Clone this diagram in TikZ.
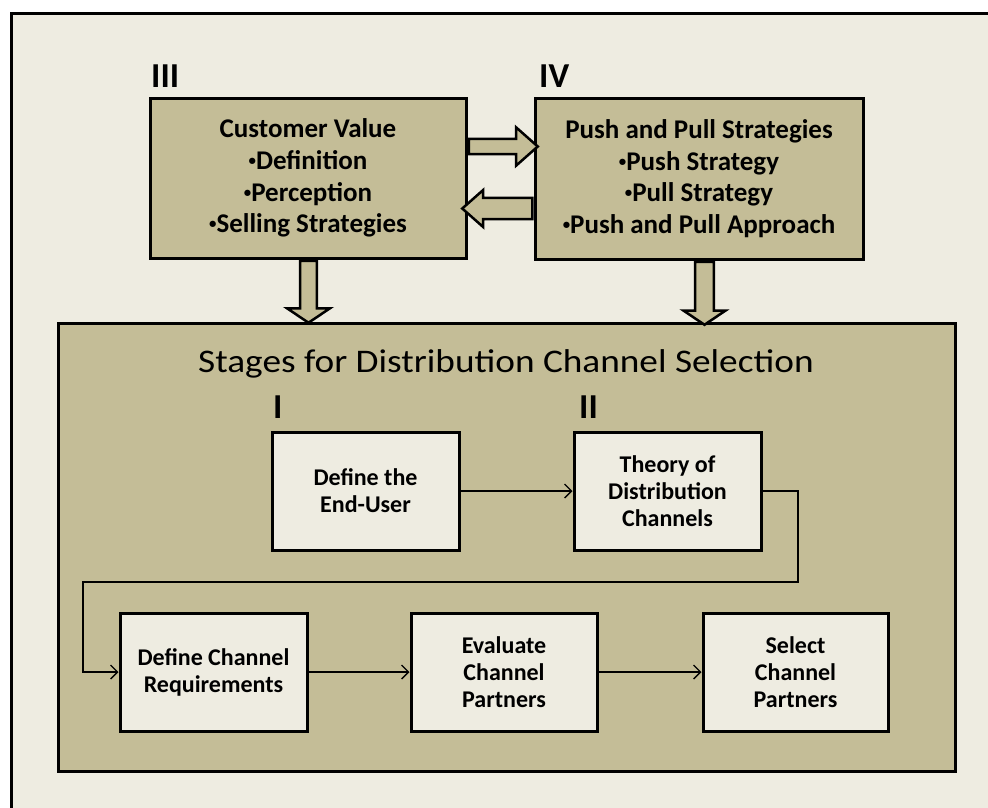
\documentclass[tikz,border=0pt]{standalone}
\usepackage{fontspec}
\setmainfont{Carlito}
\usetikzlibrary{arrows.meta,shapes.arrows,calc}
\definecolor{cream}{HTML}{EEECE1}
\definecolor{tan}{HTML}{C4BD97}
\newcommand{\sbul}{\raisebox{0.14em}{\scalebox{0.55}{\textbullet}}}

\begin{document}
\begin{tikzpicture}[x=1pt,y=-1pt,
    topbox/.style={draw,line width=3pt,fill=tan,inner sep=0pt,align=center,
      font=\fontsize{27}{31.7}\selectfont\bfseries},
    stagebox/.style={draw,line width=3pt,fill=cream,inner sep=0pt,align=center,
      minimum width=187pt,minimum height=118pt,
      font=\fontsize{24}{27}\selectfont\bfseries},
    numeral/.style={anchor=base west,inner sep=0pt,font=\fontsize{35}{35}\selectfont\bfseries},
    bigarrow/.style={single arrow,draw,line width=2.5pt,fill=tan,inner xsep=0pt,
      minimum width=0pt,anchor=tail},
    flow/.style={line width=1.3pt,-{Straight Barb[length=7pt,width=14pt,line width=1.3pt]}}]
  \useasboundingbox (0,0) rectangle (988,807);
  \clip (0,0) rectangle (988,807);
  \fill[white] (0,0) rectangle (988,807);
  \fill[cream] (11,13) rectangle (1000,820);
  \draw[line width=3pt] (11,820) |- (1000,13);

  \node[topbox,minimum width=316pt,minimum height=160pt] (cv) at (308,178)
    {Customer Value\\\sbul Definition\\\sbul Perception\\\sbul Selling Strategies};
  \node[topbox,minimum width=328pt,minimum height=161pt] (pp) at (699,178.5)
    {Push and Pull Strategies\\\sbul Push Strategy\\\sbul Pull Strategy\\\sbul Push and Pull Approach};
  \node[numeral] (n3) at (151,87) {III};
  \node[numeral] (n4) at (539,87) {IV};

  \node[draw,line width=3pt,fill=tan,minimum width=897pt,minimum height=448pt] (stages) at (506.5,547) {};
  \node[font=\fontsize{33}{33}\selectfont,inner sep=0pt,anchor=base,xscale=1.13,transform shape] (title)
    at (506,372) {Stages for Distribution Channel Selection};

  \node[bigarrow,minimum height=69pt,inner ysep=6.3pt,single arrow head extend=11.5pt,
    single arrow tip angle=83] (a34) at ($(cv.east)+(0,-31.5)$) {};
  \node[bigarrow,minimum height=70pt,inner ysep=9.3pt,single arrow head extend=8pt,
    single arrow tip angle=83,rotate=180] (a43) at ($(pp.west)+(0,30)$) {};
  \node[bigarrow,minimum height=62pt,inner ysep=7.2pt,single arrow head extend=13pt,
    single arrow tip angle=112,rotate=-90] (a3s) at ($(cv.south)+(0.5,0)$) {};
  \node[bigarrow,minimum height=63pt,inner ysep=8.2pt,single arrow head extend=11.5pt,
    single arrow tip angle=112,rotate=-90] (a4s) at ($(pp.south)+(5.5,0)$) {};

  \node[stagebox] (enduser) at (365.5,491) {Define the\\End-User};
  \node[stagebox] (theory) at (667.5,491) {Theory of\\Distribution\\Channels};
  \node[numeral] (n1) at (273,418) {I};
  \node[numeral] (n2) at (579,418) {II};
  \node[stagebox] (chanreq) at (213.5,672) {Define Channel\\Requirements};
  \node[stagebox,minimum width=186pt] (evalpart) at (504,672) {Evaluate\\Channel\\Partners};
  \node[stagebox,minimum width=185pt] (selpart) at (795.5,672) {Select\\Channel\\Partners};

  \coordinate (loopR) at (798,582);
  \coordinate (loopL) at (83,582);
  \draw[flow] (enduser) -- (theory);
  \draw[flow] (theory.east) -| (loopR) -- (loopL) |- (chanreq.west);
  \draw[flow] (chanreq) -- (evalpart);
  \draw[flow] (evalpart) -- (selpart);
\end{tikzpicture}
\end{document}
